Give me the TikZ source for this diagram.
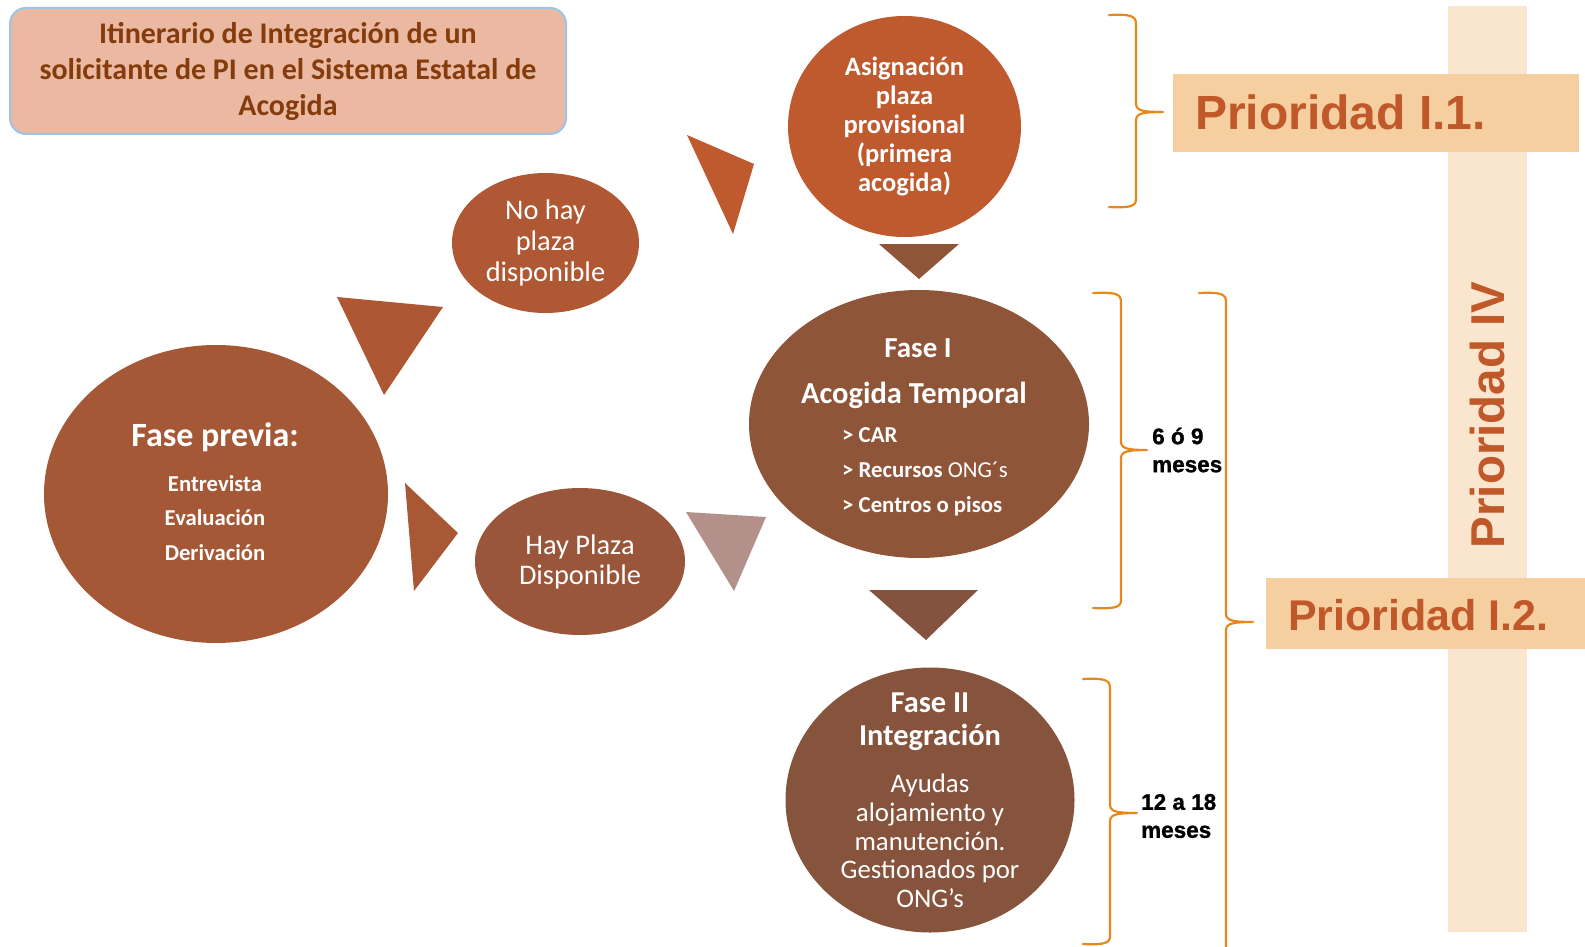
\documentclass[tikz,border=0pt]{standalone}
\usepackage{fontspec}
\setmainfont{Carlito}
\newfontfamily\arialfont{Liberation Sans}
\newfontfamily\heavyfont{Liberation Sans Bold}[FakeBold=1.2]
\usetikzlibrary{shapes.geometric}
\definecolor{titleFill}{HTML}{EBB9A2}
\definecolor{titleText}{HTML}{843C0C}
\definecolor{titleLine}{HTML}{9DC3E6}
\definecolor{asigC}{HTML}{BE5A2E}
\definecolor{triBrown}{HTML}{8F5538}
\definecolor{nohayC}{HTML}{B05833}
\definecolor{triNohay}{HTML}{AE5833}
\definecolor{fprevC}{HTML}{A55835}
\definecolor{triPrev}{HTML}{A85834}
\definecolor{hayC}{HTML}{9A563A}
\definecolor{triLight}{HTML}{B3918A}
\definecolor{faseIC}{HTML}{8E5539}
\definecolor{triFaseI}{HTML}{845340}
\definecolor{faseIIC}{HTML}{86533D}
\definecolor{braceC}{HTML}{E8881A}
\definecolor{prioFill}{HTML}{F6CFA0}
\definecolor{prioText}{HTML}{C0582A}
\definecolor{barFill}{HTML}{FAE6CE}
\begin{document}
\begin{tikzpicture}[x=1pt,y=-1pt,
  bubble/.style={ellipse, inner sep=0pt, draw=none},
  wtext/.style={text=white, align=center, inner sep=0pt},
  brace/.style={draw=braceC, line width=2.2pt, line join=round, line cap=round},
  prbox/.style={fill=prioFill, draw=none, inner sep=0pt},
  prtext/.style={text=prioText, inner sep=0pt},
  bracelabel/.style={align=left, inner sep=0pt, font=\heavyfont\fontsize{22.5}{28}\selectfont}
]
\useasboundingbox (0,0) rectangle (1585,947);

% vertical bar Prioridad IV
\node[fill=barFill, inner sep=0pt, minimum width=79pt, minimum height=926pt] (bar) at (1487.5,469) {};
\node[prtext, rotate=90, font=\arialfont\bfseries\fontsize{47.5}{50}\selectfont] (pIV) at (1488,415) {Prioridad IV};

% title
\node[fill=titleFill, draw=titleLine, line width=2pt, rounded corners=16pt,
      minimum width=556pt, minimum height=126pt, text=titleText, align=center,
      font=\bfseries\fontsize{30}{36}\selectfont] (title) at (288,71)
  {Itinerario de Integración de un\\solicitante de PI en el Sistema Estatal de\\Acogida};

% ellipses
\node[bubble, fill=asigC, minimum width=233pt, minimum height=221pt] (asig) at (904.5,126.5) {};
\node[wtext, font=\bfseries\fontsize{26.5}{29}\selectfont] (asigt) at (asig.center)
  {Asignación\\plaza\\provisional\\(primera\\acogida)};

\node[bubble, fill=nohayC, minimum width=187pt, minimum height=140pt] (nohay) at (545.5,243) {};
\node[wtext, font=\fontsize{28.4}{31}\selectfont] (nohayt) at (nohay.center) {No hay\\plaza\\disponible};

\node[bubble, fill=hayC, minimum width=210pt, minimum height=147pt] (hay) at (580,561.5) {};
\node[wtext, font=\fontsize{28.4}{30}\selectfont] (hayt) at (hay.center) {Hay Plaza\\Disponible};

\node[bubble, fill=fprevC, minimum width=344pt, minimum height=298pt] (fprev) at (216,494) {};
\node[wtext, font=\bfseries\fontsize{34}{36}\selectfont] (fprevh) at (215,437) {Fase previa:};
\node[wtext, font=\bfseries\fontsize{22.7}{34.5}\selectfont] (fprevl) at (215,518) {Entrevista\\Evaluación\\Derivación};

\node[bubble, fill=faseIC, minimum width=340pt, minimum height=268pt] (f1) at (919,424) {};
\node[wtext, font=\bfseries\fontsize{29}{30}\selectfont] (f1h) at (918,348) {Fase I};
\node[wtext, font=\bfseries\fontsize{30.5}{32}\selectfont] (f1s) at (914,395) {Acogida Temporal};
\node[wtext, align=left, anchor=west, font=\bfseries\fontsize{22.8}{35}\selectfont] (f1l) at (842,472)
  {> CAR\\> Recursos {\mdseries ONG´s}\\> Centros o pisos};

\node[bubble, fill=faseIIC, minimum width=289pt, minimum height=265pt] (f2) at (930,800) {};
\node[wtext, font=\bfseries\fontsize{30.4}{33}\selectfont] (f2h) at (930,721.5) {Fase II\\Integración};
\node[wtext, font=\fontsize{26.8}{28.75}\selectfont] (f2l) at (930,841)
  {Ayudas\\alojamiento y\\manutención.\\Gestionados por\\ONG’s};

% triangles
\fill[asigC] (687,135) -- (754,164) -- (733,234) -- cycle;
\fill[triBrown] (879,244) -- (959,244) -- (919,279) -- cycle;
\fill[triNohay] (337,297) -- (443,307) -- (384,395) -- cycle;
\fill[triPrev] (405,483) -- (458,533) -- (414,591) -- cycle;
\fill[triLight] (686,512) -- (766,517) -- (734,591) -- cycle;
\fill[triFaseI] (869,590) -- (978,590) -- (926,640) -- cycle;

% braces
\coordinate (b1tip) at (1163,112);
\draw[brace] (1109,15) .. controls (1131,14) and (1136,16) .. (1136,24) -- (1136,103)
  .. controls (1136,110) and (1140,112) .. (b1tip)
  .. controls (1140,112) and (1136,114) .. (1136,121) -- (1136,199)
  .. controls (1136,206) and (1131,208) .. (1109,207);
\coordinate (b2tip) at (1147,450);
\draw[brace] (1093,293) .. controls (1116,292) and (1121,294) .. (1121,302) -- (1121,441)
  .. controls (1121,448) and (1125,450) .. (b2tip)
  .. controls (1125,450) and (1121,452) .. (1121,459) -- (1121,600)
  .. controls (1121,607) and (1116,609) .. (1093,608);
\coordinate (b3tip) at (1253,622);
\draw[brace] (1199,293) .. controls (1221,292) and (1226,294) .. (1226,302) -- (1226,613)
  .. controls (1226,620) and (1230,622) .. (b3tip)
  .. controls (1230,622) and (1226,624) .. (1226,631) -- (1226,947);
\coordinate (b4tip) at (1137,813);
\draw[brace] (1083,679) .. controls (1105,678) and (1110,680) .. (1110,688) -- (1110,804)
  .. controls (1110,811) and (1114,813) .. (b4tip)
  .. controls (1114,813) and (1110,815) .. (1110,822) -- (1110,936)
  .. controls (1110,943) and (1105,945) .. (1083,944);

\node[bracelabel, anchor=west] (m69) at (1152,450) {6 ó 9\\meses};
\node[bracelabel, anchor=west] (m1218) at (1141,816) {12 a 18\\meses};

% priority boxes
\node[prbox, minimum width=406pt, minimum height=78pt] (p11) at (1376,113) {};
\node[prtext, anchor=base west, font=\arialfont\bfseries\fontsize{48}{50}\selectfont] (p11t) at (1195,130) {Prioridad I.1.};
\node[prbox, minimum width=319pt, minimum height=71pt] (p12) at (1425.5,613.5) {};
\node[prtext, anchor=base west, font=\arialfont\bfseries\fontsize{43}{46}\selectfont] (p12t) at (1288,630) {Prioridad I.2.};
\end{tikzpicture}
\end{document}
